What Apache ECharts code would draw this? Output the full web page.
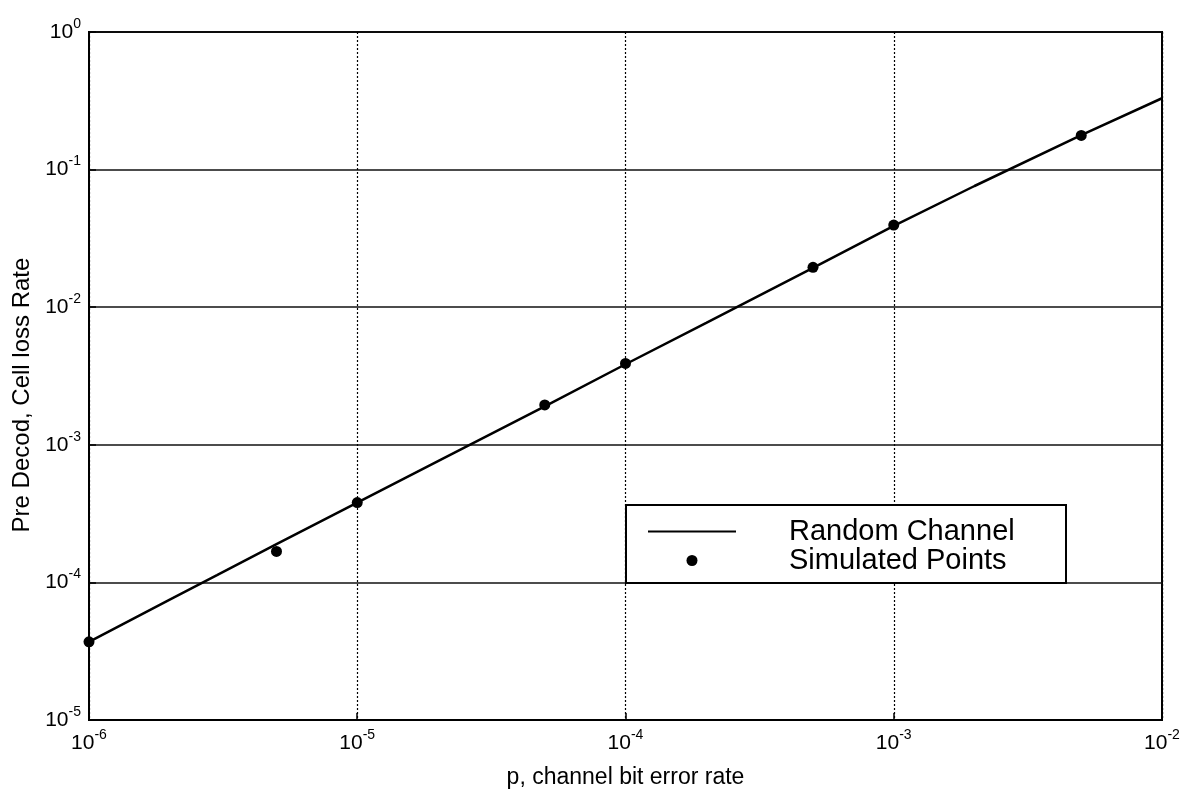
<!DOCTYPE html>
<html>
<head>
<meta charset="utf-8">
<script src="https://cdn.jsdelivr.net/npm/echarts@6/dist/echarts.min.js"></script>
<style>
  html, body { margin: 0; padding: 0; background: #fff; }
  #cc { width: 1180px; height: 789px; }
</style>
</head>
<body>
<div id="cc"></div>
<script>
// analytic curve, random channel
var lineP    = [1e-6, 2e-6, 3e-6, 5e-6, 1e-5, 2e-5, 5e-5, 1e-4, 2e-4, 5e-4, 1e-3, 2e-3, 5e-3, 1e-2];
var lineRate = [3.7e-5, 7.5e-5, 1.13e-4, 1.9e-4, 3.8e-4, 7.6e-4, 1.9e-3, 3.85e-3, 7.7e-3, 1.93e-2, 3.9e-2, 7.6e-2, 1.78e-1, 3.3e-1];

// simulation results
var simP    = [1e-6, 5e-6, 1e-5, 5e-5, 1e-4, 5e-4, 1e-3, 5e-3];
var simRate = [3.7e-5, 1.68e-4, 3.8e-4, 1.95e-3, 3.9e-3, 1.95e-2, 3.95e-2, 1.77e-1];

var seriesNames = ['Random Channel', 'Simulated Points'];

var font = "'Liberation Sans', Arial, sans-serif";

function pair(xs, ys) {
    return xs.map(function (x, i) { return [x, ys[i]]; });
}

function powLabel(value) {
    var e = Math.round(Math.log(value) / Math.LN10);
    return '{b|10}{s|' + e + '}';
}

var labelRich = {
    b: { fontSize: 21, fontFamily: font, color: '#000', lineHeight: 22, padding: [8, 0, 0, 0] },
    s: { fontSize: 14, fontFamily: font, color: '#000', verticalAlign: 'top', lineHeight: 14 }
};

var chart = echarts.init(document.getElementById('cc'), null, { renderer: 'canvas' });

var option = {
    backgroundColor: '#fff',
    animation: false,
    textStyle: { fontFamily: font },
    grid: {
        left: 89,
        right: 18,
        top: 32,
        bottom: 69,
        outerBoundsMode: 'none',
        containLabel: false,
        show: true,
        borderColor: '#000',
        borderWidth: 2,
        backgroundColor: 'transparent'
    },
    legend: {
        orient: 'vertical',
        left: 626,
        top: 505,
        padding: [12, 37, 8, 22],
        itemGap: 0,
        itemWidth: 88,
        itemHeight: 11,
        backgroundColor: '#fff',
        borderColor: '#000',
        borderWidth: 2,
        borderRadius: 0,
        selectedMode: false,
        textStyle: {
            fontFamily: font,
            fontSize: 29,
            color: '#000',
            lineHeight: 27,
            width: 240,
            padding: [0, 0, 0, 48]
        },
        data: [
            { name: seriesNames[0], icon: 'path://M0,0 L88,0 L88,2 L0,2 Z' },
            { name: seriesNames[1], icon: 'circle' }
        ]
    },
    xAxis: {
        type: 'log',
        logBase: 10,
        min: 1e-6,
        max: 1e-2,
        name: 'p, channel bit error rate',
        nameLocation: 'middle',
        nameGap: 46,
        nameTextStyle: { fontFamily: font, fontSize: 23, color: '#000' },
        axisLine: { show: true, lineStyle: { color: '#000', width: 2 } },
        axisTick: { show: true, inside: true, length: 7, lineStyle: { color: '#000', width: 1.5 } },
        minorTick: { show: false },
        axisLabel: { margin: 8, formatter: powLabel, rich: labelRich },
        splitLine: { show: true, lineStyle: { color: '#000', width: 1.2, type: [2, 2] } }
    },
    yAxis: {
        type: 'log',
        logBase: 10,
        min: 1e-5,
        max: 1,
        name: 'Pre Decod, Cell loss Rate',
        nameLocation: 'middle',
        nameGap: 51,
        nameRotate: 90,
        nameTextStyle: { fontFamily: font, fontSize: 24, color: '#000', padding: [0, 38, 0, 0] },
        axisLine: { show: true, lineStyle: { color: '#000', width: 2 } },
        axisTick: { show: true, inside: true, length: 7, lineStyle: { color: '#000', width: 1.5 } },
        minorTick: { show: false },
        axisLabel: { margin: 8, padding: [0, 0, 8, 0], formatter: powLabel, rich: labelRich },
        splitLine: { show: true, lineStyle: { color: '#111', width: 1.5, type: 'solid' } }
    },
    series: [
        {
            name: seriesNames[0],
            type: 'line',
            data: pair(lineP, lineRate),
            symbol: 'none',
            smooth: false,
            lineStyle: { color: '#000', width: 2.5 },
            itemStyle: { color: '#000' },
            z: 3
        },
        {
            name: seriesNames[1],
            type: 'scatter',
            data: pair(simP, simRate),
            symbol: 'circle',
            symbolSize: 11,
            itemStyle: { color: '#000', opacity: 1 },
            clip: false,
            z: 4
        }
    ]
};

chart.setOption(option);
</script>
</body>
</html>
